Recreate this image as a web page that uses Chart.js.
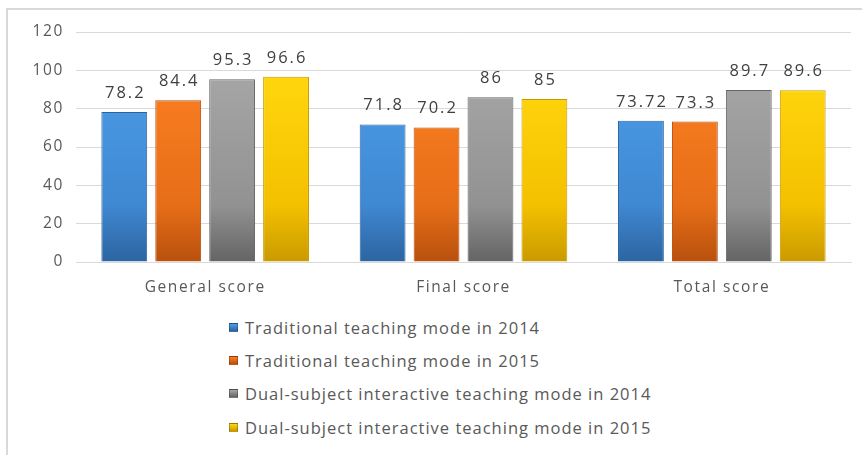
<!DOCTYPE html>
<html>
<head>
<meta charset="utf-8">
<script src="https://cdn.jsdelivr.net/npm/chart.js@4"></script>
<style>
  body { margin: 0; background: #fff; font-family: "Open Sans", sans-serif; }
  #frame { position: absolute; left: 6px; top: 8px; width: 856px; height: 447px;
           border-top: 2px solid #d9d9d9; border-left: 2px solid #d9d9d9; }
  #wrap { position: absolute; left: 8px; top: 10px; width: 854px; height: 300px; }
  #legend { position: absolute; left: 229px; top: 311px; }
  .item { height: 33.2px; display: flex; align-items: center; font-size: 16.5px; color: #595959; letter-spacing: 1px; }
  .box { width: 9px; height: 9px; margin-right: 7px; border: 1px solid rgba(0,0,0,0.25); box-sizing: border-box; }
</style>
</head>
<body>
<div id="frame"></div>
<div id="wrap"><canvas id="chart"></canvas></div>
<div id="legend"></div>
<script>
const categories = ["General score", "Final score", "Total score"];
const seriesNames = [
  "Traditional teaching mode in 2014",
  "Traditional teaching mode in 2015",
  "Dual-subject interactive teaching mode in 2014",
  "Dual-subject interactive teaching mode in 2015"
];
const trad2014 = [78.2, 71.8, 73.72];
const trad2015 = [84.4, 70.2, 73.3];
const dual2014 = [95.3, 86, 89.7];
const dual2015 = [96.6, 85, 89.6];
const yTicks = [0, 20, 40, 60, 80, 100, 120];

// light / main / dark shades for each series
const shades = [
  ["#4d9ce6", "#3f88d2", "#2c64a0"],
  ["#fb7f22", "#e76e18", "#b8500e"],
  ["#a6a6a6", "#929292", "#646464"],
  ["#ffd70e", "#f4c000", "#c99a00"]
];

function barFill(i) {
  return ctx => {
    const area = ctx.chart.chartArea;
    if (!area) return shades[i][1];
    const g = ctx.chart.ctx.createLinearGradient(0, area.top + 40, 0, area.bottom);
    g.addColorStop(0, shades[i][0]);
    g.addColorStop(0.7, shades[i][1]);
    g.addColorStop(1, shades[i][2]);
    return g;
  };
}

const allSeries = [trad2014, trad2015, dual2014, dual2015];

const wideText = {
  id: "wideText",
  beforeDraw(chart) { chart.ctx.letterSpacing = "1.6px"; }
};

const valueLabels = {
  id: "valueLabels",
  afterDatasetsDraw(chart) {
    const c = chart.ctx;
    c.save();
    c.font = "16.5px 'Open Sans', sans-serif";
    c.letterSpacing = "2px";
    c.fillStyle = "#404040";
    c.textAlign = "center";
    c.textBaseline = "alphabetic";
    chart.data.datasets.forEach((ds, i) => {
      chart.getDatasetMeta(i).data.forEach((bar, j) => {
        c.fillText(String(ds.data[j]), bar.x + 1, bar.y - 14);
      });
    });
    c.restore();
  }
};

const tickFont = { size: 15.5, family: "'Open Sans', sans-serif" };

new Chart(document.getElementById("chart"), {
  type: "bar",
  data: {
    labels: categories,
    datasets: allSeries.map((d, i) => ({
      label: seriesNames[i],
      data: d,
      backgroundColor: barFill(i),
      borderColor: shades[i][2],
      borderWidth: 1,
      barPercentage: 0.85,
      categoryPercentage: 0.835
    }))
  },
  options: {
    responsive: true,
    maintainAspectRatio: false,
    animation: false,
    layout: { padding: { top: 22, right: 11, left: 0, bottom: 0 } },
    plugins: {
      legend: { display: false },
      tooltip: { enabled: false }
    },
    scales: {
      x: {
        grid: { display: false },
        border: { color: "#d9d9d9" },
        ticks: { color: "#595959", font: tickFont, padding: 8 },
        afterFit: s => { s.height = 48; }
      },
      y: {
        min: 0,
        max: 120,
        afterBuildTicks: s => { s.ticks = yTicks.map(v => ({ value: v })); },
        grid: { color: "#d9d9d9", drawTicks: false },
        border: { display: false },
        ticks: { color: "#595959", font: tickFont, padding: 12 },
        afterFit: s => { s.width = 68; }
      }
    }
  },
  plugins: [wideText, valueLabels]
});

const legend = document.getElementById("legend");
seriesNames.forEach((name, i) => {
  const row = document.createElement("div");
  row.className = "item";
  row.innerHTML = `<span class="box" style="background:linear-gradient(${shades[i][0]}, ${shades[i][2]})"></span>${name}`;
  legend.appendChild(row);
});
</script>
</body>
</html>
